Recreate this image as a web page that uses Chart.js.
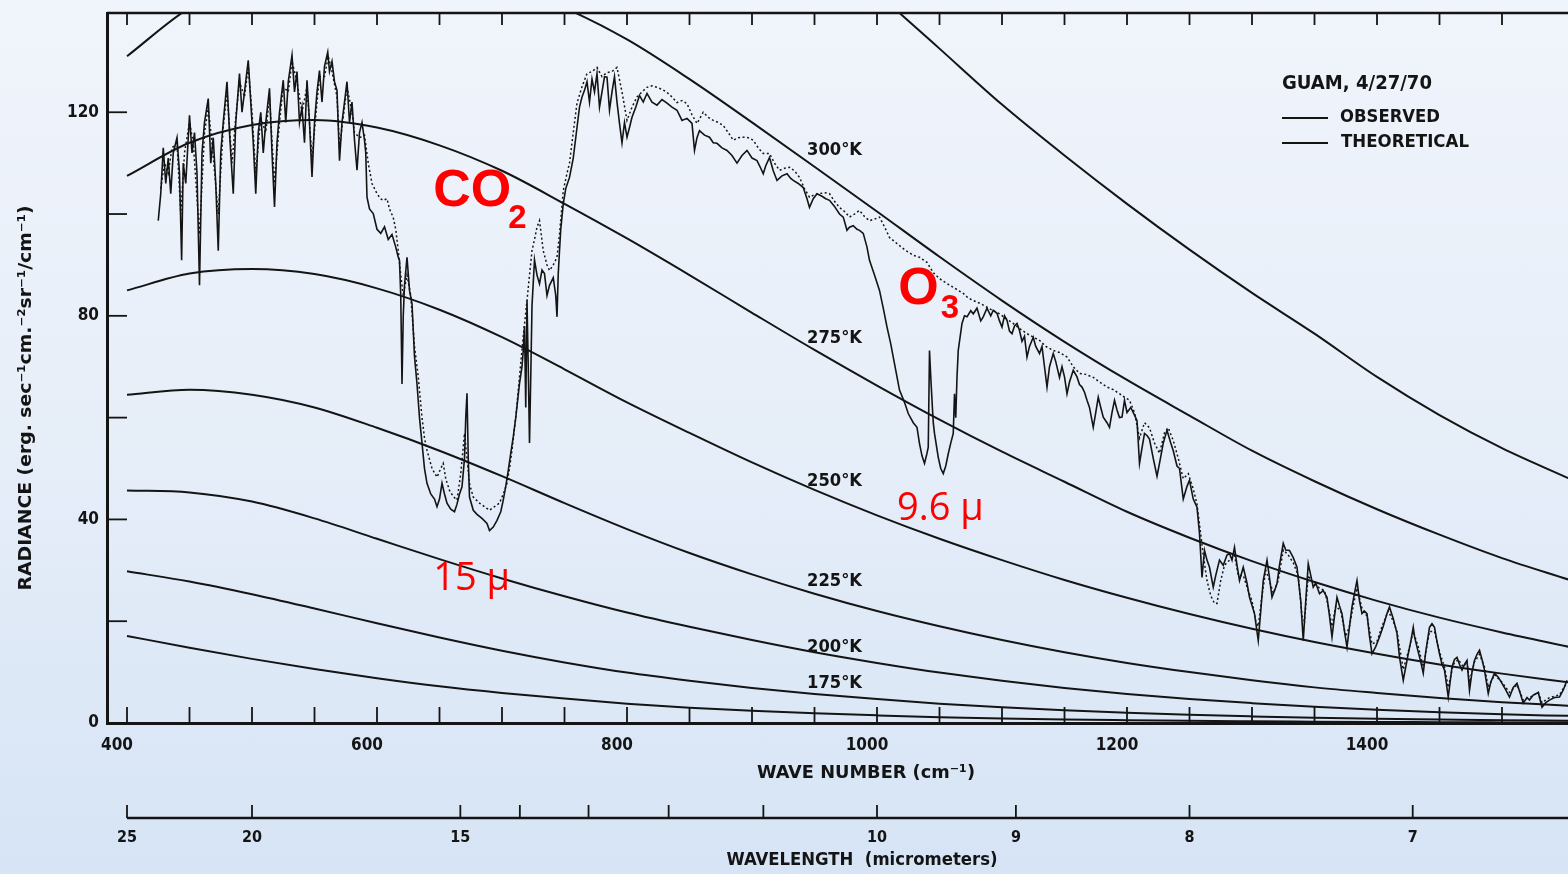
<!DOCTYPE html>
<html>
<head>
<meta charset="utf-8">
<script src="https://cdn.jsdelivr.net/npm/chart.js@4.4.1/dist/chart.umd.min.js"></script>
<style>
  html, body { margin: 0; padding: 0; }
  body {
    width: 1568px; height: 874px; overflow: hidden;
    background: linear-gradient(180deg, #f0f4fb 0%, #e8eff9 45%, #d6e4f5 100%);
  }
  canvas { display: block; }
</style>
</head>
<body>
<canvas id="spectrum" width="1568" height="874"></canvas>
<script>
// wave number grid for the black-body curves (cm^-1)
const planckNu = [400, 450, 500, 550, 600, 650, 700, 750, 800, 850, 900, 950, 1000, 1050, 1100, 1150, 1200, 1250, 1300, 1350, 1400, 1450, 1500, 1553];
const planck150 = [17.1, 14.8, 12.6, 10.6, 8.8, 7.2, 5.9, 4.8, 3.8, 3.0, 2.4, 1.9, 1.5, 1.15, 0.9, 0.7, 0.55, 0.42, 0.33, 0.26, 0.2, 0.16, 0.12, 0.1];
const planck175 = [29.8, 27.8, 25.3, 22.5, 19.6, 16.8, 14.2, 11.9, 9.9, 8.3, 6.9, 5.7, 4.7, 3.8, 3.1, 2.5, 2.0, 1.6, 1.3, 1.05, 0.85, 0.7, 0.55, 0.45];
const planck200 = [45.7, 45.3, 43.5, 40.2, 36.2, 32.2, 28.4, 24.9, 21.7, 18.9, 16.3, 13.9, 11.8, 9.9, 8.3, 6.9, 5.7, 4.7, 3.9, 3.2, 2.6, 2.1, 1.7, 1.4];
const planck225 = [64.5, 65.5, 64.5, 62.0, 58.0, 53.5, 48.5, 43.2, 38.1, 33.4, 29.2, 25.4, 22.0, 19.0, 16.3, 13.9, 11.8, 10.0, 8.4, 7.0, 5.9, 4.9, 4.1, 3.4];
const planck250 = [85.0, 88.3, 89.2, 88.2, 85.4, 81.2, 75.8, 69.5, 63.0, 57.0, 51.2, 45.8, 40.8, 36.2, 32.0, 28.1, 24.6, 21.4, 18.5, 15.9, 13.6, 11.5, 9.7, 8.0];
const planck275 = [107.5, 114.0, 117.5, 118.5, 117.0, 113.5, 108.5, 102.0, 95.2, 88.0, 80.6, 73.3, 66.3, 59.6, 53.3, 47.4, 41.5, 36.4, 31.8, 27.7, 24.0, 20.7, 17.8, 15.0];
const planck300 = [131.0, 140.5, 146.0, 149.0, 149.5, 148.0, 145.0, 140.5, 134.3, 126.5, 118.0, 109.3, 100.5, 91.6, 83.0, 74.9, 67.4, 60.4, 53.5, 47.5, 42.0, 37.0, 32.4, 28.2];
// hottest curve only enters the frame on the right
const hotNu = [950, 1000, 1050, 1100, 1150, 1200, 1250, 1300, 1350, 1400, 1450, 1500, 1553];
const planck325 = [155.0, 143.5, 132.5, 121.5, 111.5, 102.0, 93.0, 84.5, 76.5, 68.0, 60.5, 54.0, 48.1];

// measured spectrum, Guam 4/27/70 : [wave number, radiance]
const observed = [
  [425,98.7],[427,104],[429,113],[431,106],[433,111],[435,104],[437,112],[440,115],[442,108],[443.7,90.9],
  [445,110],[447,106],[450,119.4],[452,112],[454,116],[456,108],[458,86],[460,112],[462,118],[465,122.7],
  [467,110],[469,115],[471,106],[473,92.8],[475,112],[477,118],[480,126],[482,116],[485,104],[487,118],
  [490,127.6],[492,120],[494,124],[497,130.2],[499,122],[501,114],[503,104],[505,116],[507,120],[509,112],
  [511,118],[514,124.7],[516,112],[518,101.4],[520,114],[522,120],[525,126.3],[527,118],[529,126],[532,131.2],
  [534,124],[536,128],[538,118],[540,121],[542,114],[544,126.3],[546,118],[548,107.3],[550,118],[552,124],
  [554,128.2],[556,122],[558,129],[560.6,131.8],[562,128],[564,130],[566,126],[568,124.3],[570,110.5],[572,118],
  [574,122],[576,126],[578,118],[580,122],[582,114.5],[584,108.6],[586,116],[588,118],[590,114.5],[591,112],
  [592,103.3],[594,101],[597,100.1],[600,97],[603,96.2],[606,97.5],[609,95],[612,96],[615,93.5],[617,91.5],
  [618,90.9],[619,84],[620,66.6],[621,80],[622,86],[624,91.5],[626,85],[628,82.4],[630,72],[632,66.6],
  [634,60],[636,55],[638,50],[640,47.1],[643,45],[646,44],[648,42.5],[650,44],[652,47.1],[654,45],
  [656,43.2],[659,42],[662,41.5],[664,43],[666,45],[668,46.4],[670,52],[671,60],[672,64.8],[673,52],
  [674,44.4],[677,41.8],[680,41],[684,40.2],[688,39.2],[690,37.8],[693,38.5],[696,39.8],[699,41.5],[701,43.8],
  [703,46.5],[705,49.6],[707,53],[709,56.2],[711,60],[714,66.7],[716,70],[717,73.2],[718,78],[719,62],
  [720,83],[721,70],[722,55],[723,68],[724,82],[726,91],[728,88],[730,86.3],[732,89],[734,88.3],
  [736,84],[738,86],[741,87.5],[743,84],[744,79.8],[745,88.3],[746,92.8],[747,97],[749,102],[751,105],
  [754,107.2],[757,111],[760,117],[762,121],[764,123],[766,124.3],[768,126],[770,122],[772,126.5],[774,124],
  [776,127.6],[778,121],[780,124],[782,127],[784,126.9],[786,120.4],[788,124],[790,127],[792,122],[794,117.8],
  [796,114],[798,118],[800,115.1],[802,117],[804,119],[807,121],[810,123.3],[813,122],[816,123.7],[820,122],
  [824,121.4],[828,122.5],[832,121.8],[836,121],[840,120.4],[844,118.4],[848,118.8],[852,117.8],[854,112.5],[856,115],
  [858,116.4],[862,115.5],[866,115.1],[869,114],[872,113.9],[876,113],[880,112.5],[884,111.5],[888,110],[892,111.5],
  [896,112.5],[900,111],[904,110.5],[907,109],[909,107.9],[911,109.5],[914,111.1],[917,108.5],[920,106.6],[924,107.5],
  [928,107.9],[931,107],[933,106.6],[937,106],[941,105.2],[944,103],[946,101.3],[949,103],[952,104],[956,103.5],
  [959,103],[962,102.7],[966,101.5],[970,100],[973,99.4],[976,96.8],[978,97.4],[981,97.7],[984,97],[986,96.8],
  [989,96.2],[992,93.5],[994,90.9],[998,88],[1002,85],[1005,81.5],[1008,77.8],[1011,74.5],[1013,71.9],[1016,68],
  [1018,65.4],[1022,63],[1025,60.8],[1029,59],[1032,58.1],[1034,54.9],[1036,52.5],[1038,51],[1040,53],[1041,54.2],
  [1042,73.2],[1043,68],[1044,63.4],[1045,59],[1046,56.9],[1049,52.2],[1051,50],[1053,49],[1055,50.5],[1057,52.9],
  [1059,55],[1061,56.9],[1062,64.7],[1063,60],[1064,68],[1065,73.2],[1068,78.5],[1070,80],[1072,79.8],[1075,81],
  [1077,80.4],[1080,81.5],[1083,79],[1085,79.8],[1088,81.5],[1091,80],[1093,81.1],[1096,80.5],[1098,79],[1100,77.8],
  [1102,80],[1104,79.1],[1106,77],[1108,76.5],[1110,78],[1112,78.5],[1114,77.1],[1116,75],[1118,76],[1120,71.9],
  [1122,74],[1125,75.8],[1127,74],[1130,72.6],[1132,74],[1134,70],[1136,66],[1138,70],[1141,72.6],[1143,71],
  [1146,67.9],[1148,70],[1150,68],[1152,64.7],[1154,67],[1157,69.3],[1160,68],[1162,66.5],[1164,66],[1166,65],
  [1168,63.4],[1170,62],[1173,58.1],[1175,61],[1177,64],[1179,62],[1181,60.1],[1184,59],[1186,58.1],[1188,61],
  [1190,63.4],[1192,61.5],[1194,60],[1196,60.1],[1198,63.4],[1200,61],[1203,62],[1206,60.5],[1208,59.4],[1210,51],
  [1212,54],[1214,56.9],[1216,56.5],[1218,55.8],[1221,52],[1224,48.5],[1226,51],[1229,55],[1232,57.5],[1235,55],
  [1237,53.5],[1240,50.5],[1242,50],[1245,44],[1248,46.5],[1250,47.7],[1253,44],[1256,42.4],[1258,37.2],[1260,28.6],
  [1262,33.9],[1264,32],[1266,30.6],[1269,26.7],[1271,29],[1274,32],[1277,31],[1280,33],[1282,33.3],[1284,32],
  [1286,34.5],[1288,31],[1290,28],[1293,30.6],[1296,27.5],[1298,24.7],[1302,21.5],[1305,16.2],[1307,22],[1309,28],
  [1312,32],[1314,28.5],[1316,24.7],[1318,26],[1320,27.4],[1322,31],[1325,35.3],[1327,34],[1330,33.9],[1333,32.5],
  [1336,30.6],[1339,24],[1341,16.2],[1343,24],[1345,31.3],[1347,29],[1349,26.7],[1351,27.5],[1354,25.4],[1357,26],
  [1360,24.7],[1362,21],[1364,16.9],[1366,21],[1368,24.7],[1370,23],[1372,21.5],[1374,18],[1376,14.9],[1378,19],
  [1380,22.8],[1382,25.5],[1384,28],[1386,24],[1388,21.5],[1390,22],[1392,21.5],[1394,17],[1396,13.6],[1399,15],
  [1402,16.9],[1405,19],[1408,21.5],[1410,22.8],[1413,20.5],[1416,17.6],[1418,13],[1421,8.4],[1423,11],[1425,13.6],
  [1427,16],[1429,18.8],[1430,17],[1432,14.9],[1435,12],[1437,9.8],[1439,14],[1442,18.8],[1444,19.5],[1446,18.8],
  [1448,16],[1450,13.6],[1452,11.5],[1454,10.4],[1457,5.1],[1460,11],[1462,12.5],[1464,12.9],[1466,11.5],[1468,10.4],
  [1470,11.5],[1472,12.3],[1474,6.4],[1476,10],[1478,12.3],[1480,13.5],[1482,14.3],[1484,12.5],[1486,10.4],[1489,5.8],
  [1491,8],[1494,9.8],[1497,9],[1500,7.8],[1503,6.5],[1506,5.1],[1509,7],[1512,7.8],[1515,5.5],[1517,3.9],
  [1520,5],[1522,4.5],[1525,5.5],[1529,6],[1532,3.1],[1535,4],[1538,4.5],[1542,5],[1546,5.1],[1549,6.5],[1552,8.4]
];

// computed spectrum (no ozone) : [wave number, radiance]
const theoretical = [
  [427,105],[430,110],[433,108],[436,113],[440,114],[443,100],[446,112],[450,118],[453,114],[458,96],
  [462,116],[465,121],[468,114],[473,100],[477,117],[480,124],[484,110],[487,119],[490,126],[494,123],
  [497,129],[500,120],[503,108],[507,119],[511,116],[514,123],[518,106],[522,118],[525,125],[529,124],
  [532,130],[536,126],[540,120],[544,125],[548,111],[552,122],[554,127],[558,127],[561,131],[564,128],
  [568,123],[570,113],[574,121],[576,125],[580,120],[582,116],[586,115],[590,115.5],[593,110],[596,106],
  [600,104],[603,103],[605,102.7],[608,103],[610,101],[613,99.3],[615,97],[617,92.8],[619,88],[621,84],
  [624,88],[627,84],[630,74],[633,68],[636,60],[638,56],[640,53.6],[644,50],[648,48.3],[651,50],
  [653,51],[655,48],[658,45.7],[661,44.5],[664,43.8],[667,49],[670,56.9],[672,52],[674,47],[677,44.4],
  [682,43.2],[686,42.5],[690,41.8],[694,42.5],[698,43.2],[701,45],[704,47.1],[706,50],[708,53.6],[711,60],
  [714,68],[717,76],[720,83],[722,88],[724,92.8],[726,95],[728,97.4],[730,98.7],[733,92.8],[736,90],
  [738,88.9],[741,90],[744,91.5],[746,96],[749,104.6],[752,108],[754,110],[757,116],[760,121.8],[764,125],
  [768,127.6],[772,128],[776,128.8],[780,127],[784,127.8],[788,128],[792,128.8],[796,124],[800,118.4],[804,121],
  [808,123],[812,124],[816,124.9],[820,125.2],[824,124.9],[828,124.5],[832,123.9],[836,123],[840,121.9],[844,122.3],
  [848,121.7],[852,119.5],[856,117.8],[861,120],[865,119],[869,118.4],[873,118],[877,117.4],[881,116],[885,114.5],
  [889,115],[893,115.1],[897,115],[901,114.5],[905,113],[909,111.9],[914,111.9],[918,110],[922,108.6],[926,109],
  [930,109.2],[934,108.5],[938,107.2],[942,105],[946,103.3],[950,103.8],[954,104],[958,104.2],[962,104],[966,102.5],
  [970,101.3],[974,100.5],[978,99.4],[982,100],[986,100.7],[990,99.5],[994,98.7],[998,99],[1002,99.4],[1006,97.5],
  [1010,95.4],[1016,94.2],[1022,93],[1029,91.9],[1034,91.5],[1040,90.5],[1045,88.5],[1050,87.3],[1055,86.5],[1061,85.6],
  [1065,85],[1069,84.4],[1073,83.5],[1077,83],[1082,82.5],[1088,81.7],[1093,81],[1098,80.4],[1103,79.5],[1109,78.5],
  [1114,77.5],[1120,76.5],[1125,75.8],[1130,75.2],[1135,74],[1141,73.2],[1146,72.8],[1152,71.9],[1157,70],[1162,68.7],
  [1167,68.5],[1173,67.9],[1178,67],[1184,66],[1189,65.5],[1194,64.7],[1198,64],[1202,63.4],[1206,61],[1210,56],
  [1214,59],[1218,58],[1222,55],[1226,53],[1230,57],[1233,58],[1237,55.5],[1241,52],[1245,48],[1249,49],
  [1253,46],[1256,43],[1258,39],[1261,33],[1264,28],[1267,25],[1270,23.5],[1272,23.5],[1275,28],[1278,31],
  [1282,32],[1286,33],[1289,29],[1293,29],[1297,26],[1300,24],[1303,20],[1305,19],[1308,25],[1311,30],
  [1314,28],[1317,25.5],[1321,28],[1325,34],[1329,33],[1333,31.5],[1337,29],[1340,21],[1342,20],[1345,29],
  [1349,27.5],[1354,26.5],[1358,26],[1361,23],[1364,19],[1367,23],[1371,22],[1375,17],[1378,19],[1381,23],
  [1384,26.5],[1388,22.5],[1392,21],[1396,15.5],[1400,16],[1404,19],[1409,22],[1413,20],[1416,18],[1421,10.5],
  [1425,14],[1429,18],[1433,15],[1437,11],[1442,18],[1446,18],[1450,14],[1454,11],[1457,7],[1461,11.5],
  [1465,12.5],[1469,11],[1472,12],[1474,8],[1478,12],[1482,13.5],[1486,11],[1489,7],[1494,9.5],[1500,8],
  [1506,6],[1512,7.5],[1517,4.5],[1522,5],[1529,6],[1532,4],[1538,5],[1546,5.5],[1552,8]
];

// axes
const wnTicks = [400, 450, 500, 550, 600, 650, 700, 750, 800, 850, 900, 950, 1000, 1050, 1100, 1150, 1200, 1250, 1300, 1350, 1400, 1450, 1500];
const wnLabels = [400, 600, 800, 1000, 1200, 1400];
const yTicks = [0, 20, 40, 60, 80, 100, 120];
const yLabels = [0, 40, 80, 120];
const wlTicks = [25, 20, 15, 14, 13, 12, 11, 10, 9, 8, 7];
const wlLabels = [25, 20, 15, 10, 9, 8, 7];

// curve labels [text, wave number, radiance]
const tempLabels = [
  ["300°K", 966, 112.5], ["275°K", 966, 75.6], ["250°K", 966, 47.5],
  ["225°K", 966, 27.8], ["200°K", 966, 14.9], ["175°K", 966, 7.8]
];

const ink = "#141414";
const red = "#ff0000";
const scanFont = "'Liberation Sans Narrow', 'DejaVu Sans Condensed', 'Liberation Sans', Arial, sans-serif";

function pairs(list) {
  return list.map(([x, y]) => ({ x, y }));
}
function zipXY(nu, vals) {
  return nu.map((x, i) => ({ x, y: vals[i] }));
}

function planckSet(nu, vals) {
  return {
    data: zipXY(nu, vals),
    borderColor: ink,
    borderWidth: 2,
    pointRadius: 0,
    showLine: true,
    cubicInterpolationMode: "monotone",
    fill: false,
  };
}

// squeeze text to a given width, the scanned lettering is narrow
function fitText(ctx, text, x, y, width, align) {
  const w = ctx.measureText(text).width;
  ctx.save();
  ctx.translate(x, y);
  ctx.scale(width / w, 1);
  ctx.textAlign = "left";
  ctx.fillText(text, align === "center" ? -w / 2 : 0, 0);
  ctx.restore();
}

function stroke(ctx, x1, y1, x2, y2) {
  ctx.beginPath();
  ctx.moveTo(x1, y1);
  ctx.lineTo(x2, y2);
  ctx.stroke();
}

const frameTicks = {
  id: "frameTicks",
  afterDatasetsDraw(chart) {
    const { ctx, chartArea: a, scales } = chart;
    const x = scales.x, y = scales.y, x2 = scales.x2;
    ctx.save();
    ctx.strokeStyle = ink;
    ctx.lineWidth = 2.5;
    stroke(ctx, a.left, a.top, a.right, a.top);
    ctx.lineWidth = 1.8;
    wnTicks.forEach((v) => {
      const px = x.getPixelForValue(v);
      stroke(ctx, px, a.bottom, px, a.bottom - 16);
      stroke(ctx, px, a.top, px, a.top + 12);
    });
    yTicks.forEach((v) => {
      const py = y.getPixelForValue(v);
      stroke(ctx, a.left, py, a.left + 20, py);
    });
    // wavelength scale
    const base = x2.top;
    ctx.lineWidth = 2.5;
    stroke(ctx, x2.getPixelForValue(10000 / wlTicks[0]), base, a.right, base);
    ctx.lineWidth = 1.8;
    wlTicks.forEach((l) => {
      const px = x2.getPixelForValue(10000 / l);
      stroke(ctx, px, base, px, base - 13);
    });
    ctx.restore();
  },
};

const lettering = {
  id: "lettering",
  afterDraw(chart) {
    const { ctx, scales } = chart;
    const x = scales.x, y = scales.y;
    ctx.save();
    ctx.fillStyle = ink;
    ctx.textBaseline = "middle";

    ctx.font = "bold 17px " + scanFont;
    tempLabels.forEach(([t, nu, r]) => {
      fitText(ctx, t, x.getPixelForValue(nu), y.getPixelForValue(r), 55, "center");
    });

    // axis titles
    ctx.font = "bold 18px " + scanFont;
    fitText(ctx, "WAVE NUMBER (cm⁻¹)", 866, 773, 218, "center");
    fitText(ctx, "WAVELENGTH  (micrometers)", 862, 860, 271, "center");
    ctx.save();
    ctx.translate(26, 398);
    ctx.rotate(-Math.PI / 2);
    fitText(ctx, "RADIANCE (erg. sec⁻¹cm.⁻²sr⁻¹/cm⁻¹)", 0, 0, 385, "center");
    ctx.restore();

    // key
    ctx.font = "bold 20px " + scanFont;
    fitText(ctx, "GUAM, 4/27/70", 1282, 84, 150, "left");
    ctx.font = "bold 17px " + scanFont;
    fitText(ctx, "OBSERVED", 1340, 118, 100, "left");
    fitText(ctx, "THEORETICAL", 1341, 143, 128, "left");
    ctx.strokeStyle = ink;
    ctx.lineWidth = 1.8;
    stroke(ctx, 1282, 118, 1328, 118);
    stroke(ctx, 1282, 143, 1328, 143);

    // slide annotations
    ctx.fillStyle = red;
    ctx.textBaseline = "alphabetic";
    ctx.textAlign = "left";
    ctx.font = "bold 52px 'Liberation Sans', Arial, sans-serif";
    ctx.fillText("CO", x.getPixelForValue(645), y.getPixelForValue(101.6));
    ctx.fillText("O", x.getPixelForValue(1017), y.getPixelForValue(82.4));
    ctx.font = "bold 33px 'Liberation Sans', Arial, sans-serif";
    ctx.fillText("2", x.getPixelForValue(705), y.getPixelForValue(97.3));
    ctx.fillText("3", x.getPixelForValue(1051), y.getPixelForValue(79.6));
    ctx.font = "38px 'Open Sans', 'Liberation Sans', Arial, sans-serif";
    ctx.fillText("15 µ", x.getPixelForValue(645), y.getPixelForValue(26.2));
    ctx.fillText("9.6 µ", x.getPixelForValue(1016), y.getPixelForValue(39.8));
    ctx.restore();
  },
};

const tickFont = { family: scanFont, size: 17, weight: "bold" };

new Chart(document.getElementById("spectrum"), {
  type: "scatter",
  data: {
    datasets: [
      planckSet(planckNu, planck150),
      planckSet(planckNu, planck175),
      planckSet(planckNu, planck200),
      planckSet(planckNu, planck225),
      planckSet(planckNu, planck250),
      planckSet(planckNu, planck275),
      planckSet(planckNu, planck300),
      planckSet(hotNu, planck325),
      {
        label: "THEORETICAL",
        data: pairs(theoretical),
        borderColor: ink,
        borderWidth: 1.5,
        borderDash: [2, 2.5],
        pointRadius: 0,
        showLine: true,
        tension: 0,
      },
      {
        label: "OBSERVED",
        data: pairs(observed),
        borderColor: ink,
        borderWidth: 1.6,
        pointRadius: 0,
        showLine: true,
        tension: 0,
      },
    ],
  },
  options: {
    responsive: false,
    animation: false,
    devicePixelRatio: 1,
    layout: { padding: { top: 13, right: 0, bottom: 0, left: 0 } },
    plugins: {
      legend: { display: false },
      tooltip: { enabled: false },
    },
    scales: {
      x: {
        type: "linear",
        position: "bottom",
        weight: 0,
        min: 384,
        max: 1552.8,
        afterBuildTicks: (axis) => {
          axis.ticks = wnTicks.map((v) => ({ value: v }));
        },
        afterFit: (axis) => {
          axis.height = 95;
          axis.paddingLeft = 0;
          axis.paddingRight = 0;
        },
        ticks: {
          autoSkip: false,
          maxRotation: 0,
          padding: 12,
          labelOffset: -10,
          color: ink,
          font: tickFont,
          callback: (v) => (wnLabels.includes(v) ? String(v) : ""),
        },
        grid: { display: false, drawTicks: false },
        border: { display: true, color: ink, width: 3 },
      },
      x2: {
        type: "linear",
        position: "bottom",
        weight: 1,
        min: 384,
        max: 1552.8,
        afterBuildTicks: (axis) => {
          axis.ticks = wlTicks.map((l) => ({ value: 10000 / l }));
        },
        afterFit: (axis) => {
          axis.height = 56;
          axis.paddingLeft = 0;
          axis.paddingRight = 0;
        },
        ticks: {
          autoSkip: false,
          maxRotation: 0,
          padding: 10,
          color: ink,
          font: { family: scanFont, size: 16, weight: "bold" },
          callback: (v) => {
            const l = Math.round(10000 / v);
            return wlLabels.includes(l) ? String(l) : "";
          },
        },
        grid: { display: false, drawTicks: false },
        border: { display: false },
      },
      y: {
        type: "linear",
        min: 0,
        max: 139.5,
        afterBuildTicks: (axis) => {
          axis.ticks = yTicks.map((v) => ({ value: v }));
        },
        afterFit: (axis) => {
          axis.width = 107;
          axis.paddingTop = 0;
          axis.paddingBottom = 0;
        },
        ticks: {
          padding: 8,
          color: ink,
          font: tickFont,
          callback: (v) => (yLabels.includes(v) ? String(v) : ""),
        },
        grid: { display: false, drawTicks: false },
        border: { display: true, color: ink, width: 3 },
      },
    },
  },
  plugins: [frameTicks, lettering],
});
</script>
</body>
</html>
